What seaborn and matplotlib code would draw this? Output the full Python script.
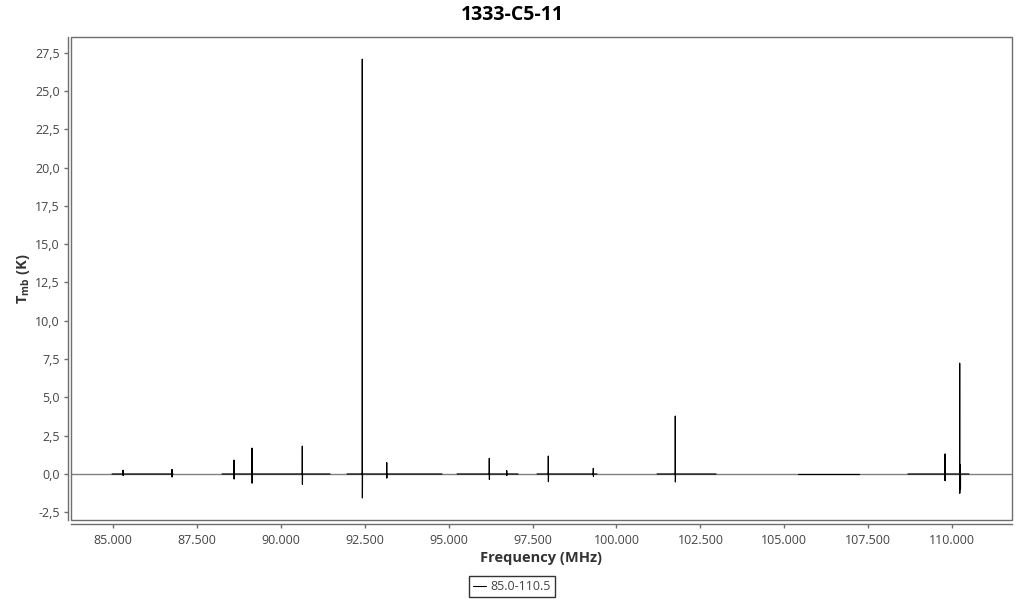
import numpy as np
import pandas as pd
import matplotlib
matplotlib.use("Agg")
import matplotlib.pyplot as plt
from matplotlib.patches import Rectangle
from matplotlib.lines import Line2D
from matplotlib.ticker import FuncFormatter, MultipleLocator
import seaborn as sns

# ---- data ----
seg_start = [84980, 88255, 91976, 95254, 97634, 101208, 105405, 108680]
seg_end = [86795, 91471, 94805, 97070, 99421, 102965, 107221, 110497]

line_freq = [85307, 86766, 88612, 89148, 90646, 92432, 93159, 96214, 96732,
             97971, 99311, 101752, 109782, 110220, 110240]
line_peak = [0.25, 0.3, 0.91, 1.69, 1.82, 27.07, 0.74, 1.02, 0.22,
             1.17, 0.37, 3.78, 1.31, 7.23, 0.6]
line_dip = [-0.1, -0.2, -0.33, -0.6, -0.67, -1.56, -0.27, -0.35, -0.1,
            -0.5, -0.15, -0.52, -0.44, -1.26, -1.0]

series_label = "85.0-110.5"
title = "1333-C5-11"

# ---- build table ----
rows = []
for i, (s, e) in enumerate(zip(seg_start, seg_end)):
    rows.append((i, s, 0.0))
    for f, p, d in zip(line_freq, line_peak, line_dip):
        if s <= f <= e:
            rows += [(i, f - 3, 0.0), (i, f, p), (i, f + 3, d), (i, f + 6, 0.0)]
    rows.append((i, e, 0.0))
df = pd.DataFrame(rows, columns=["seg", "freq", "tmb"]).sort_values(["seg", "freq"])

sns.set_style("white")
plt.rcParams["font.family"] = ["Open Sans", "DejaVu Sans"]
plt.rcParams["mathtext.fontset"] = "custom"
plt.rcParams["mathtext.rm"] = "Open Sans:bold"
plt.rcParams["mathtext.it"] = "Open Sans:bold"
plt.rcParams["mathtext.bf"] = "Open Sans:bold"

fig = plt.figure(figsize=(10.24, 6.0), dpi=100)
L, R, T, B = 70.5, 1012, 37.3, 519.5
ax = fig.add_axes([L / 1024, 1 - B / 600, (R - L) / 1024, (B - T) / 600])

ax.axhline(0, color="#808080", lw=1.0, zorder=1)
sns.lineplot(data=df, x="freq", y="tmb", units="seg", estimator=None,
             color="black", lw=0.85, ax=ax, zorder=3, legend=False)

ax.set_xlim(83743, 111778)
ax.set_ylim(-2.97, 28.5)

gray = "#6e6e6e"
for sp in ["top", "right"]:
    ax.spines[sp].set_visible(False)
ax.spines["left"].set_position(("outward", 1.8))
ax.spines["bottom"].set_position(("outward", 3.2))
ax.spines["left"].set_color(gray)
ax.spines["bottom"].set_color(gray)
ax.spines["left"].set_linewidth(1.0)
ax.spines["bottom"].set_linewidth(1.0)
ax.add_patch(Rectangle((0, 0), 1, 1, transform=ax.transAxes, fill=False,
                       edgecolor=gray, lw=1.0, clip_on=False, zorder=5))

ax.xaxis.set_major_locator(MultipleLocator(2500))
ax.yaxis.set_major_locator(MultipleLocator(2.5))
ax.xaxis.set_major_formatter(FuncFormatter(lambda v, p: f"{v:,.0f}".replace(",", ".")))
ax.yaxis.set_major_formatter(FuncFormatter(lambda v, p: f"{v:.1f}".replace(".", ",")))
ax.tick_params(axis="both", which="major", length=3, width=1, color=gray,
               labelsize=9, labelcolor="#444444", direction="out")
ax.tick_params(axis="x", bottom=True, pad=4)
ax.tick_params(axis="y", left=True, pad=3)

ax.set_xlabel("Frequency (MHz)", fontsize=10.5, fontweight="bold", color="#333333", labelpad=3)
ax.set_ylabel(r"T$_{\mathrm{mb}}$ (K)", fontsize=10.5, fontweight="bold", color="#333333", labelpad=2)
fig.suptitle(title, x=0.5, y=1 - 15 / 600, va="center", fontsize=14, fontweight="bold", color="black")

handle = Line2D([], [], color="black", lw=0.8)
leg = fig.legend([handle], [series_label], loc="center",
                 bbox_to_anchor=(512 / 1024, 1 - 586.5 / 600),
                 frameon=True, fancybox=False, edgecolor="black",
                 fontsize=9, handlelength=1.0, handletextpad=0.4,
                 borderpad=0.35, borderaxespad=0)
leg.get_frame().set_linewidth(1.0)
for t in leg.get_texts():
    t.set_color("#444444")

fig.savefig("out.png", dpi=100)
